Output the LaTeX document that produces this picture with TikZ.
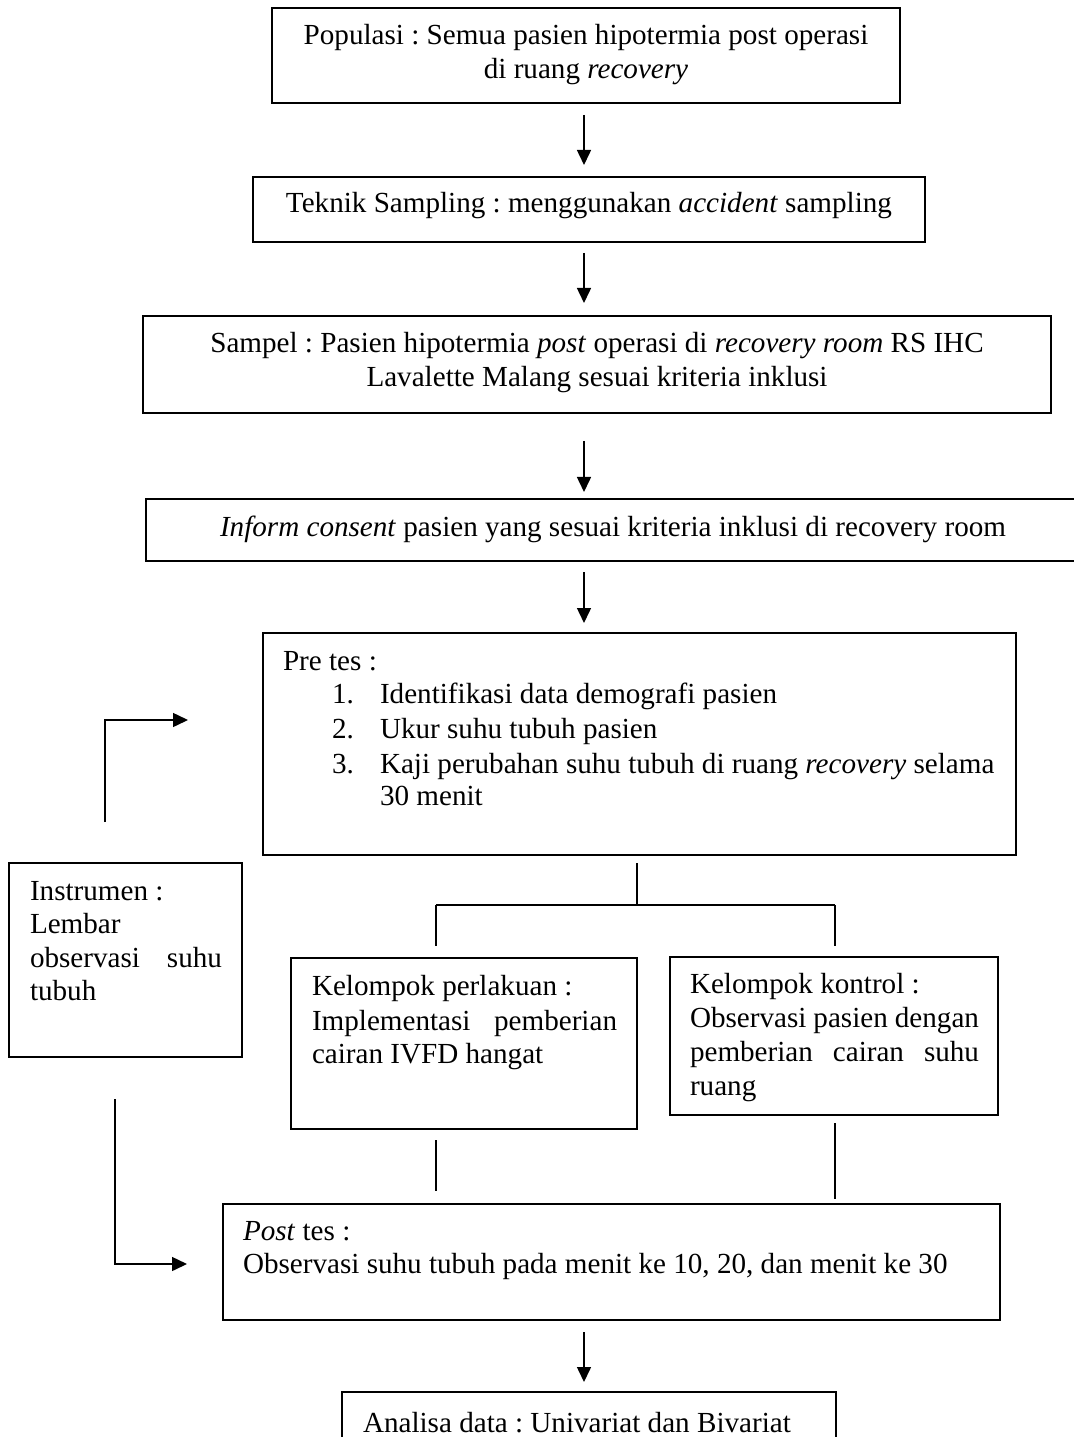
\documentclass[tikz,border=0pt]{standalone}
\usepackage{fontspec}
\setmainfont{Liberation Serif}
\usetikzlibrary{arrows.meta,fit}
\frenchspacing
\begin{document}
\begin{tikzpicture}[x=0.4pt,y=-0.4pt,
  box/.style={draw, line width=0.6pt, inner sep=0pt, outer sep=0pt, rectangle},
  txt/.style={anchor=base west, inner sep=0pt, outer sep=0pt, font=\fontsize{11.65}{14}\selectfont},
  ctxt/.style={anchor=base, inner sep=0pt, outer sep=0pt, font=\fontsize{11.65}{14}\selectfont},
  ln/.style={line width=0.6pt},
  arr/.style={ln, -{Triangle[length=6pt,width=5.6pt]}}]
\useasboundingbox (0,0) rectangle (1073,1437);
% boxes
\node[box, fit={(272,8) (900,103)}] (pop) {};
\node[box, fit={(253,177) (925,242)}] (tek) {};
\node[box, fit={(143,316) (1051,413)}] (sam) {};
\node[box, fit={(146,499) (1090,561)}] (inf) {};
\node[box, fit={(263,633) (1016,855)}] (pre) {};
\node[box, fit={(9,863) (242,1057)}] (ins) {};
\node[box, fit={(291,958) (637,1129)}] (per) {};
\node[box, fit={(670,957) (998,1115)}] (kon) {};
\node[box, fit={(223,1204) (1000,1320)}] (pos) {};
\node[box, fit={(342,1392) (836,1460)}] (ana) {};
% texts
\node[ctxt] (t1a) at (586,45) {Populasi : Semua pasien hipotermia post operasi};
\node[ctxt] (t1b) at (586,79) {di ruang \textit{recovery}};
\node[ctxt] (t2) at (589,213) {Teknik Sampling : menggunakan \textit{accident} sampling};
\node[ctxt] (t3a) at (597,353) {Sampel : Pasien hipotermia \textit{post} operasi di \textit{recovery room} RS IHC};
\node[ctxt] (t3b) at (597,387) {Lavalette Malang sesuai kriteria inklusi};
\node[ctxt] (t4) at (613,536) {\textit{Inform consent} pasien yang sesuai kriteria inklusi di recovery room};
\node[txt] (t5a) at (283,670) {Pre tes :};
\node[txt] (n1) at (332,703) {1.};
\node[txt] (t5b) at (380,703) {Identifikasi data demografi pasien};
\node[txt] (n2) at (332,738) {2.};
\node[txt] (t5c) at (380,738) {Ukur suhu tubuh pasien};
\node[txt] (n3) at (332,773) {3.};
\node[txt] (t5d) at (380,773) {Kaji perubahan suhu tubuh di ruang \textit{recovery} selama};
\node[txt] (t5e) at (380,805) {30 menit};
\node[txt] (t6a) at (30,900) {Instrumen :};
\node[txt] (t6b) at (30,933) {Lembar};
\node[txt] (t6c) at (30,967) {\makebox[76.8pt][s]{observasi suhu}};
\node[txt] (t6d) at (30,1000) {tubuh};
\node[txt] (t7a) at (312,995) {Kelompok perlakuan :};
\node[txt] (t7b) at (312,1030) {\makebox[122pt][s]{Implementasi pemberian}};
\node[txt] (t7c) at (312,1063) {cairan IVFD hangat};
\node[txt] (t8a) at (690,993) {Kelompok kontrol :};
\node[txt] (t8b) at (690,1027) {\makebox[115.6pt][s]{Observasi pasien dengan}};
\node[txt] (t8c) at (690,1061) {\makebox[115.6pt][s]{pemberian cairan suhu}};
\node[txt] (t8d) at (690,1095) {ruang};
\node[txt] (t9a) at (243,1240) {\textit{Post} tes :};
\node[txt] (t9b) at (243,1273) {Observasi suhu tubuh pada menit ke 10, 20, dan menit ke 30};
\node[txt] (t10) at (363,1432) {Analisa data : Univariat dan Bivariat};
% helper coordinates
\coordinate (ax) at (584,0);
\coordinate (split) at (637,905);
\coordinate (lx) at (436,0);
\coordinate (rx) at (835,0);
\coordinate (lxu) at (105,0);
\coordinate (yu) at (0,720);
\coordinate (lxd) at (115,0);
\coordinate (yd) at (0,1264);
% main arrows
\draw[arr, shorten <=4.8pt, shorten >=4.8pt] (pop.south -| ax) -- (tek.north -| ax);
\draw[arr, shorten <=4.4pt, shorten >=5.2pt] (tek.south -| ax) -- (sam.north -| ax);
\draw[arr, shorten <=11.2pt, shorten >=2.8pt] (sam.south -| ax) -- (inf.north -| ax);
\draw[arr, shorten <=4.4pt, shorten >=4pt] (inf.south -| ax) -- (pre.north -| ax);
\draw[arr, shorten <=4.8pt, shorten >=4pt] (pos.south -| ax) -- (ana.north -| ax);
% branch
\draw[ln, shorten <=3.2pt] (pre.south -| split) -- (split);
\draw[ln] (split -| lx) -- (split -| rx);
\draw[ln, shorten >=4.8pt] (split -| lx) -- (per.north -| lx);
\draw[ln, shorten >=4.4pt] (split -| rx) -- (kon.north -| rx);
\draw[ln, shorten <=4.4pt, shorten >=5.2pt] (per.south -| lx) -- (pos.north -| lx);
\draw[ln, shorten <=3.2pt, shorten >=2pt] (kon.south -| rx) -- (pos.north -| rx);
% left connectors
\draw[arr, shorten <=16.4pt, shorten >=30pt] (ins.north -| lxu) |- (pre.west |- yu);
\draw[arr, shorten <=16.8pt, shorten >=14.4pt] (ins.south -| lxd) |- (pos.west |- yd);
\end{tikzpicture}
\end{document}
